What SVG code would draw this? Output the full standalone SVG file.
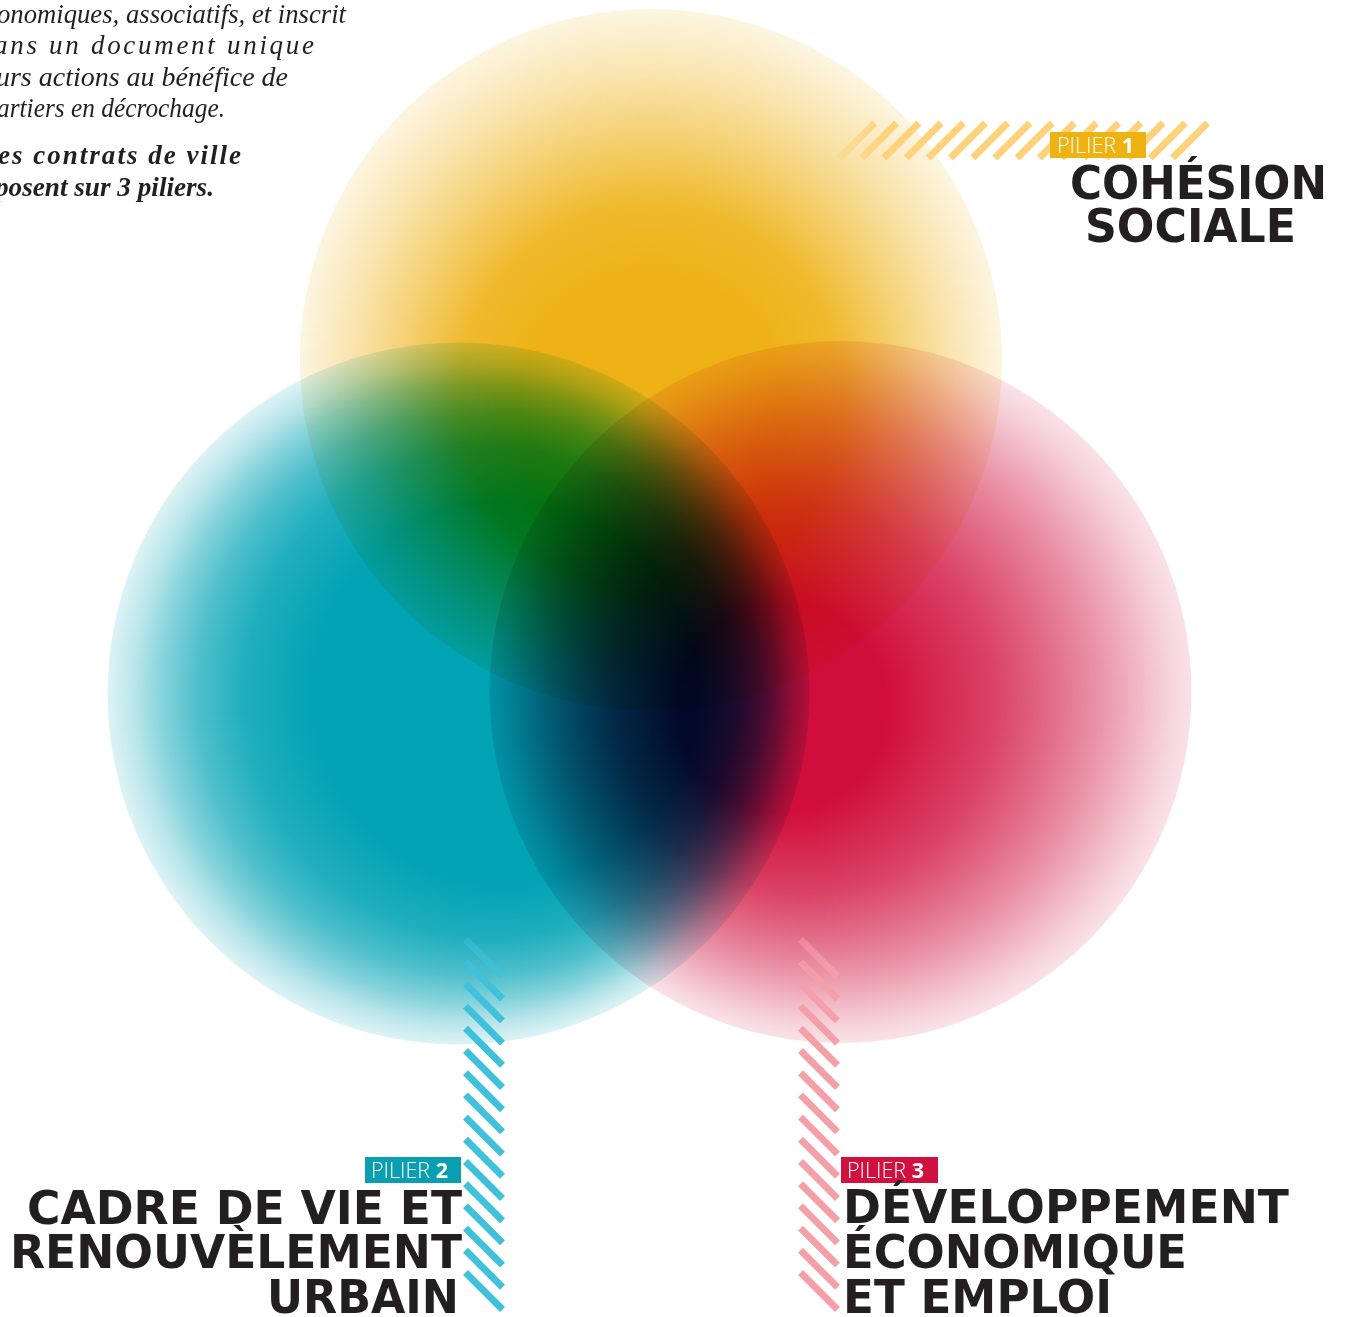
<svg xmlns="http://www.w3.org/2000/svg" width="1345" height="1317" viewBox="0 0 1345 1317">
<style>
.intro{font-family:"Liberation Serif","Times New Roman",serif;font-style:italic;font-size:27px;fill:#231F20}
.introb{font-weight:bold}
.title{font-family:"DejaVu Sans","Verdana",sans-serif;font-weight:bold;font-size:46px;fill:#231F20}
.pil{font-family:"Open Sans","Noto Sans",sans-serif;font-weight:300;font-size:21.5px;fill:#ffffff}
.pil tspan{font-weight:bold}
.blend{mix-blend-mode:multiply}
.hy{stroke:url(#hgy);stroke-width:7;fill:none}
.hb{stroke:url(#hgb);stroke-width:7;fill:none}
.hr{stroke:url(#hgr);stroke-width:7;fill:none}
</style>
<defs>
<radialGradient id="gy" cx="0.5" cy="0.5" r="0.5" fx="0.5" fy="0.62">
<stop offset="0" stop-color="#EEB216" stop-opacity="1"/>
<stop offset="0.38" stop-color="#EEB216" stop-opacity="1"/>
<stop offset="0.55" stop-color="#EEB216" stop-opacity="0.9"/>
<stop offset="0.72" stop-color="#EEB216" stop-opacity="0.58"/>
<stop offset="0.85" stop-color="#EEB216" stop-opacity="0.35"/>
<stop offset="0.95" stop-color="#EEB216" stop-opacity="0.2"/>
<stop offset="1" stop-color="#EEB216" stop-opacity="0.13"/>
</radialGradient>
<radialGradient id="gb" cx="0.5" cy="0.5" r="0.5" fx="0.65" fy="0.5">
<stop offset="0" stop-color="#02A3B5" stop-opacity="1"/>
<stop offset="0.55" stop-color="#02A3B5" stop-opacity="1"/>
<stop offset="0.7" stop-color="#02A3B5" stop-opacity="0.88"/>
<stop offset="0.8" stop-color="#02A3B5" stop-opacity="0.7"/>
<stop offset="0.88" stop-color="#02A3B5" stop-opacity="0.48"/>
<stop offset="0.94" stop-color="#02A3B5" stop-opacity="0.28"/>
<stop offset="1" stop-color="#02A3B5" stop-opacity="0.13"/>
</radialGradient>
<radialGradient id="gr" cx="0.5" cy="0.5" r="0.5" fx="0.38" fy="0.53">
<stop offset="0" stop-color="#D00E3B" stop-opacity="1"/>
<stop offset="0.3" stop-color="#D00E3B" stop-opacity="1"/>
<stop offset="0.55" stop-color="#D00E3B" stop-opacity="0.78"/>
<stop offset="0.67" stop-color="#D00E3B" stop-opacity="0.62"/>
<stop offset="0.78" stop-color="#D00E3B" stop-opacity="0.46"/>
<stop offset="0.87" stop-color="#D00E3B" stop-opacity="0.31"/>
<stop offset="0.95" stop-color="#D00E3B" stop-opacity="0.18"/>
<stop offset="1" stop-color="#D00E3B" stop-opacity="0.12"/>
</radialGradient>
<linearGradient id="hgy" gradientUnits="userSpaceOnUse" x1="836" y1="0" x2="885" y2="0">
<stop offset="0" stop-color="#FDD27A" stop-opacity="0.35"/>
<stop offset="1" stop-color="#FDD27A" stop-opacity="1"/>
</linearGradient>
<linearGradient id="hgb" gradientUnits="userSpaceOnUse" x1="0" y1="936" x2="0" y2="990">
<stop offset="0" stop-color="#3FC1DB" stop-opacity="0.35"/>
<stop offset="1" stop-color="#3FC1DB" stop-opacity="1"/>
</linearGradient>
<linearGradient id="hgr" gradientUnits="userSpaceOnUse" x1="0" y1="936" x2="0" y2="990">
<stop offset="0" stop-color="#F4A0A8" stop-opacity="0.45"/>
<stop offset="1" stop-color="#F4A0A8" stop-opacity="1"/>
</linearGradient>
</defs>
<rect x="0" y="0" width="1345" height="1317" fill="#ffffff"/>

<g id="intro-text">
<text class="intro" x="-3" y="23" textLength="349" lengthAdjust="spacingAndGlyphs">onomiques, associatifs, et inscrit</text>
<text class="intro" x="-6" y="54" textLength="320" lengthAdjust="spacing">ans un document unique</text>
<text class="intro" x="-4" y="86" textLength="292" lengthAdjust="spacingAndGlyphs">urs actions au bénéfice de</text>
<text class="intro" x="-3" y="117" textLength="228" lengthAdjust="spacingAndGlyphs">artiers en décrochage.</text>
<text class="intro introb" x="-2" y="164" textLength="243" lengthAdjust="spacing">es contrats de ville</text>
<text class="intro introb" x="-5" y="196" textLength="219" lengthAdjust="spacingAndGlyphs">posent sur 3 piliers.</text>
</g>

<g id="circles">
<circle id="circle-cohesion" class="blend" cx="651" cy="360" r="351" fill="url(#gy)"/>
<circle id="circle-cadre" class="blend" cx="458.5" cy="693.5" r="351" fill="url(#gb)"/>
<circle id="circle-developpement" class="blend" cx="840.5" cy="692" r="351" fill="url(#gr)"/>
</g>

<g id="connectors"></g>

<g id="hatch-1" class="hy">
<path d="M839.5 158L874.5 123M861.7 158L896.7 123M883.9 158L918.9 123M906.1 158L941.1 123M928.3 158L963.3 123M950.5 158L985.5 123M972.7 158L1007.7 123M994.9 158L1029.9 123M1017.1 158L1052.1 123M1039.3 158L1074.3 123M1061.5 158L1096.5 123M1083.7 158L1118.7 123M1105.9 158L1140.9 123M1128.1 158L1163.1 123M1150.3 158L1185.3 123M1172.5 158L1207.5 123"/>
</g>

<g id="hatch-2" class="hb">
<path d="M465.5 939.5L502.5 976.5M465.5 961.7L502.5 998.7M465.5 983.9L502.5 1020.9M465.5 1006.1L502.5 1043.1M465.5 1028.3L502.5 1065.3M465.5 1050.5L502.5 1087.5M465.5 1072.7L502.5 1109.7M465.5 1094.9L502.5 1131.9M465.5 1117.1L502.5 1154.1M465.5 1139.3L502.5 1176.3M465.5 1161.5L502.5 1198.5M465.5 1183.7L502.5 1220.7M465.5 1205.9L502.5 1242.9M465.5 1228.1L502.5 1265.1M465.5 1250.3L502.5 1287.3M465.5 1272.5L502.5 1309.5"/>
</g>

<g id="hatch-3" class="hr">
<path d="M800.5 939.5L837.5 976.5M800.5 961.7L837.5 998.7M800.5 983.9L837.5 1020.9M800.5 1006.1L837.5 1043.1M800.5 1028.3L837.5 1065.3M800.5 1050.5L837.5 1087.5M800.5 1072.7L837.5 1109.7M800.5 1094.9L837.5 1131.9M800.5 1117.1L837.5 1154.1M800.5 1139.3L837.5 1176.3M800.5 1161.5L837.5 1198.5M800.5 1183.7L837.5 1220.7M800.5 1205.9L837.5 1242.9M800.5 1228.1L837.5 1265.1M800.5 1250.3L837.5 1287.3M800.5 1272.5L837.5 1309.5"/>
</g>

<g id="pilier-1">
<rect x="1050" y="132" width="96" height="26" fill="#EFB213"/>
<text class="pil" x="1057" y="153">PILIER <tspan>1</tspan></text>
<text class="title" x="1070" y="199" textLength="257" lengthAdjust="spacingAndGlyphs">COHÉSION</text>
<text class="title" x="1085" y="242" textLength="211" lengthAdjust="spacingAndGlyphs">SOCIALE</text>
</g>

<g id="pilier-2">
<rect x="365" y="1157" width="96" height="26" fill="#0A9FB0"/>
<text class="pil" x="371" y="1178">PILIER <tspan>2</tspan></text>
<text class="title" x="27" y="1224" textLength="435" lengthAdjust="spacingAndGlyphs">CADRE DE VIE ET</text>
<text class="title" x="10" y="1268" textLength="452" lengthAdjust="spacingAndGlyphs">RENOUVÈLEMENT</text>
<text class="title" x="267" y="1313" textLength="192" lengthAdjust="spacingAndGlyphs">URBAIN</text>
</g>

<g id="pilier-3">
<rect x="841" y="1157" width="97" height="26" fill="#D0103F"/>
<text class="pil" x="847" y="1178">PILIER <tspan>3</tspan></text>
<text class="title" x="843" y="1223" textLength="446" lengthAdjust="spacingAndGlyphs">DÉVELOPPEMENT</text>
<text class="title" x="843" y="1268" textLength="344" lengthAdjust="spacingAndGlyphs">ÉCONOMIQUE</text>
<text class="title" x="843" y="1313" textLength="269" lengthAdjust="spacingAndGlyphs">ET EMPLOI</text>
</g>
</svg>
